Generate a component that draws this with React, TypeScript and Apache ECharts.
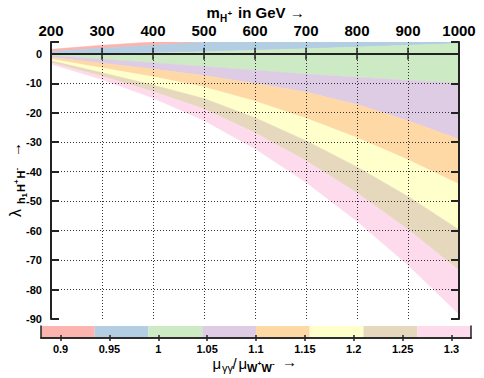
import React, { useEffect, useRef } from 'react';
import * as echarts from 'echarts';

// charged Higgs mass (GeV)
const massGeV = [200, 300, 400, 500, 600, 700, 800, 900, 1000];

// band edges (lambda values), top to bottom
const edgeRedTop = [1.5, 2.9, 4.0, 5.2, 6.5, 7.9, 9.4, 11.0, 12.7];
const edgeRedBlue = [0.8, 1.9, 2.9, 3.9, 4.9, 6.0, 7.2, 8.4, 9.7];
const edgeBlueGreen = [0.2, 0.1, 0.3, 0.7, 1.2, 1.7, 2.3, 2.9, 3.5];
const edgeGreenPurple = [-0.6, -1.8, -3.0, -4.3, -5.6, -6.9, -8.0, -9.0, -10.0];
const edgePurpleOrange = [-1.2, -3.2, -5.2, -7.4, -10.1, -13.0, -17.2, -22.7, -29.0];
const edgeOrangeYellow = [-1.8, -4.8, -7.8, -11.3, -16.1, -21.9, -28.5, -36.0, -44.3];
const edgeYellowTan = [-2.4, -6.4, -10.6, -15.2, -21.7, -29.5, -38.4, -48.4, -59.7];
const edgeTanPink = [-3.0, -7.6, -12.8, -18.7, -26.8, -36.3, -47.2, -59.6, -73.5];
const edgePinkBottom = [-3.5, -8.7, -15.0, -22.6, -32.2, -43.6, -56.8, -71.7, -88.4];

const bandEdges = [
  edgeRedTop, edgeRedBlue, edgeBlueGreen, edgeGreenPurple, edgePurpleOrange,
  edgeOrangeYellow, edgeYellowTan, edgeTanPink, edgePinkBottom,
];

const bandColors = ['#fbb4ae', '#b3cde3', '#ccebc5', '#decbe4', '#fed9a6', '#ffffcc', '#e5d8bd', '#fddaec'];

// horizontal grid lines (lambda)
const lambdaGrid = [-80, -70, -60, -50, -40, -30, -20, -10, 0];

// colour bar: mu_gammagamma / mu_WW
const ratioEdges = [0.88, 0.935, 0.99, 1.045, 1.1, 1.155, 1.21, 1.265, 1.32];
const ratioTicks = [0.9, 0.95, 1, 1.05, 1.1, 1.15, 1.2, 1.25, 1.3];

const FONT = '"Liberation Sans", Arial, sans-serif';
const FRAME = '#222';

function txt(text: string, x: number, y: number, size: number, bold = true) {
  return {
    type: 'text',
    x,
    y,
    z: 10,
    style: {
      text,
      font: `${bold ? 'bold ' : ''}${size}px ${FONT}`,
      fill: '#000',
      align: 'left',
      verticalAlign: 'middle',
    },
  };
}

export default function App() {
  const ref = useRef<HTMLDivElement>(null);

  useEffect(() => {
    if (!ref.current) return;
    const chart = echarts.init(ref.current, undefined, { renderer: 'svg' });

    const series: any[] = [
      {
        type: 'custom',
        xAxisIndex: 0,
        yAxisIndex: 0,
        clip: true,
        silent: true,
        z: 2,
        data: bandColors.map((_, i) => [massGeV[0], bandEdges[i + 1][0]]),
        renderItem: (params: any, api: any) => {
          const i = params.dataIndex;
          const upper = massGeV.map((m, j) => api.coord([m, bandEdges[i][j]]));
          const lower = massGeV.map((m, j) => api.coord([m, bandEdges[i + 1][j]])).reverse();
          return {
            type: 'polygon',
            shape: { points: upper.concat(lower) },
            style: { fill: bandColors[i], stroke: bandColors[i], lineWidth: 0.5 },
          };
        },
      },
      {
        // dotted horizontal grid lines, drawn as rows of 1px dots
        type: 'custom',
        xAxisIndex: 0,
        yAxisIndex: 0,
        silent: true,
        z: 4,
        data: lambdaGrid.map((v) => [massGeV[0], v]),
        renderItem: (params: any, api: any) => {
          const v = api.value(1);
          const a = api.coord([massGeV[0], v]);
          const b = api.coord([massGeV[massGeV.length - 1], v]);
          const y = Math.floor(a[1]);
          const children: any[] = [];
          for (let x = Math.ceil(a[0]) + 1; x < b[0] - 1; x += 3) {
            children.push({
              type: 'rect',
              shape: { x, y, width: 1, height: 1 },
              style: { fill: '#333' },
            });
          }
          return { type: 'group', children };
        },
      },
      {
        type: 'custom',
        xAxisIndex: 2,
        yAxisIndex: 2,
        silent: true,
        z: 2,
        data: bandColors.map((_, i) => [ratioEdges[i], ratioEdges[i + 1]]),
        encode: { x: [0, 1] },
        renderItem: (params: any, api: any) => {
          const a = api.coord([api.value(0), 1]);
          const b = api.coord([api.value(1), 0]);
          return {
            type: 'rect',
            shape: { x: a[0], y: a[1], width: b[0] - a[0], height: b[1] - a[1] },
            style: { fill: bandColors[params.dataIndex] },
          };
        },
      },
    ];

    const option: any = {
      animation: false,
      backgroundColor: '#fff',
      grid: [
        { left: 51, right: 25, top: 42, bottom: 59 },
        { left: 41, right: 13, top: 326, height: 12 },
      ],
      xAxis: [
        {
          type: 'value', gridIndex: 0, position: 'top', min: 200, max: 1000, interval: 100, z: 5,
          axisLine: { show: true, lineStyle: { color: FRAME, width: 2 } },
          axisTick: { show: true, inside: true, length: 6, lineStyle: { color: FRAME, width: 1.5 } },
          axisLabel: {
            fontFamily: FONT, fontWeight: 'bold', fontSize: 15, color: '#000', margin: 4,
            formatter: (v: number) => String(v),
          },
          splitLine: { show: true, lineStyle: { color: '#333', width: 1, type: [1, 2] } },
        },
        {
          type: 'value', gridIndex: 0, position: 'bottom', min: 200, max: 1000, interval: 100, z: 5,
          axisLine: { show: true, lineStyle: { color: FRAME, width: 2 } },
          axisTick: { show: true, inside: true, length: 6, lineStyle: { color: FRAME, width: 1.5 } },
          axisLabel: { show: false },
          splitLine: { show: false },
        },
        {
          type: 'value', gridIndex: 1, position: 'bottom', min: 0.88, max: 1.32, z: 5,
          axisLine: { show: true, lineStyle: { color: FRAME, width: 1.5 } },
          axisTick: { show: true, inside: true, length: 3, customValues: ratioTicks, lineStyle: { color: FRAME, width: 1.5 } },
          axisLabel: {
            customValues: ratioTicks, fontFamily: FONT, fontWeight: 'bold', fontSize: 11, color: '#000', margin: 5,
            formatter: (v: number) => String(v),
          },
          splitLine: { show: false },
        },
        {
          type: 'value', gridIndex: 1, position: 'top', min: 0.88, max: 1.32, z: 5,
          axisLine: { show: true, lineStyle: { color: FRAME, width: 1.5 } },
          axisTick: { show: true, inside: true, length: 3, customValues: ratioTicks, lineStyle: { color: FRAME, width: 1.5 } },
          axisLabel: { show: false },
          splitLine: { show: false },
        },
      ],
      yAxis: [
        {
          type: 'value', gridIndex: 0, position: 'left', min: -90, max: 4, interval: 10, z: 5,
          axisLine: { show: true, lineStyle: { color: FRAME, width: 2 } },
          axisTick: { show: true, inside: true, length: 8, lineStyle: { color: FRAME, width: 2 } },
          axisLabel: {
            fontFamily: FONT, fontWeight: 'bold', fontSize: 11, color: '#000', margin: 9,
            formatter: (v: number) => (Math.abs(v % 10) < 1e-9 ? String(v) : ''),
          },
          splitLine: { show: false },
        },
        {
          type: 'value', gridIndex: 0, position: 'right', min: -90, max: 4, interval: 10, z: 5,
          axisLine: { show: true, lineStyle: { color: FRAME, width: 2 } },
          axisTick: { show: true, inside: true, length: 8, lineStyle: { color: FRAME, width: 2 } },
          axisLabel: { show: false },
          splitLine: { show: false },
        },
        {
          type: 'value', gridIndex: 1, position: 'left', min: 0, max: 1, z: 5,
          axisLine: { show: true, lineStyle: { color: FRAME, width: 1.5 } },
          axisTick: { show: false }, axisLabel: { show: false }, splitLine: { show: false },
        },
        {
          type: 'value', gridIndex: 1, position: 'right', min: 0, max: 1, z: 5,
          axisLine: { show: true, lineStyle: { color: FRAME, width: 1.5 } },
          axisTick: { show: false }, axisLabel: { show: false }, splitLine: { show: false },
        },
      ],
      series,
      graphic: [
        // top axis title: m_{H+} in GeV ->
        txt('m', 206.5, 12.8, 15),
        txt('H', 220, 18.5, 10),
        txt('+', 227.5, 13.2, 8),
        txt('in GeV \u2192', 238, 12.8, 15),
        // y axis title
        {
          type: 'group',
          x: 21,
          y: 217,
          rotation: Math.PI / 2,
          children: [
            txt('\u03bb', 0, -5.6, 16, false),
            txt('h', 13, 0.2, 11),
            txt('1', 19.5, 3.2, 8),
            txt('H', 25, 0.2, 11),
            txt('+', 33, -4.8, 8),
            txt('H', 38.5, 0.2, 11),
            txt('-', 46.5, -4.8, 8),
            txt('\u2192', 60, -5.3, 15, false),
          ],
        },
        // bottom title: mu_gg / mu_WW ->
        txt('\u03bc', 212.5, 363.5, 15, false),
        txt('\u03b3\u03b3', 222, 368, 11, false),
        txt('/', 232.5, 363.5, 15, false),
        txt('\u03bc', 238.5, 363.5, 15, false),
        txt('W', 247, 368, 11),
        txt('+', 257.5, 363, 7),
        txt('W', 261.5, 368, 11),
        txt('-', 272, 363, 8),
        txt('\u2192', 282, 361, 15, false),
      ],
    };

    chart.setOption(option);
    return () => chart.dispose();
  }, []);

  return (
    <div
      ref={ref}
      style={{ position: 'absolute', left: 0, top: 0, width: 484, height: 378, background: '#fff' }}
    />
  );
}
